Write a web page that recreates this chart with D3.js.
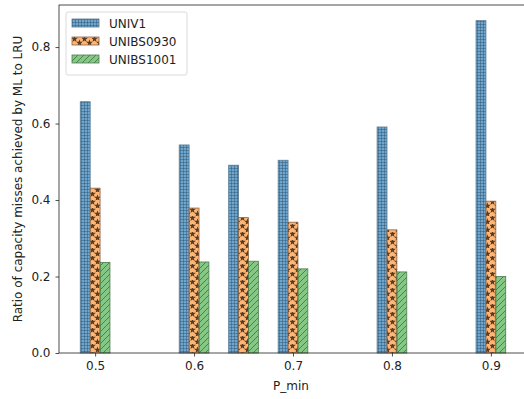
<!DOCTYPE html>
<html lang="en">
<head>
    <meta charset="UTF-8">
    <script src="https://cdn.jsdelivr.net/npm/d3@7"></script>
    <title>P_min bars</title>
    <style>
        body { margin: 0; background: #fff; }
        svg { font-family: "DejaVu Sans", sans-serif; display: block; }
    </style>
</head>
<body>
    <svg></svg>
    <script>
        const pMin = [0.5, 0.6, 0.65, 0.7, 0.8, 0.9];
        const seriesNames = ['UNIV1', 'UNIBS0930', 'UNIBS1001'];
        const univ1 = [0.657, 0.544, 0.491, 0.504, 0.591, 0.869];
        const unibs0930 = [0.431, 0.379, 0.354, 0.342, 0.322, 0.397];
        const unibs1001 = [0.237, 0.238, 0.240, 0.220, 0.212, 0.200];
        const xTicks = [0.5, 0.6, 0.7, 0.8, 0.9];
        const yTicks = [0.0, 0.2, 0.4, 0.6, 0.8];

        const W = 524, H = 399;
        const svg = d3.select('svg').attr('width', W).attr('height', H);

        // plot area
        const pLeft = 59, pRight = 527, pTop = 5, pBottom = 353;
        const barW = 0.01;
        const x = d3.scaleLinear().domain([0.4635, 0.9365]).range([pLeft, pRight]);
        const y = d3.scaleLinear().domain([0, 0.91]).range([pBottom, pTop]);

        const fills = ['rgba(31,119,180,0.65)', 'rgba(255,127,14,0.58)', 'rgba(44,160,44,0.58)'];
        const edges = ['#5a7890', '#8a6547', '#4f7a4f'];

        // hatch patterns
        const defs = svg.append('defs');
        // grid '+'
        let p = defs.append('pattern').attr('id', 'h0').attr('patternUnits', 'userSpaceOnUse')
            .attr('width', 3).attr('height', 3);
        p.append('rect').attr('width', 3).attr('height', 3).attr('fill', fills[0]);
        p.append('path').attr('d', 'M0,0.5H3M0.5,0V3').attr('stroke', '#2b4a66').attr('stroke-width', 0.7).attr('stroke-opacity', 0.6);
        // stars
        p = defs.append('pattern').attr('id', 'h1').attr('patternUnits', 'userSpaceOnUse')
            .attr('width', 10).attr('height', 8);
        p.append('rect').attr('width', 10).attr('height', 8).attr('fill', fills[1]);
        const star = d3.symbol().type(d3.symbolStar).size(15)();
        p.append('path').attr('d', star).attr('transform', 'translate(2.5,2)').attr('fill', '#5a3c22');
        p.append('path').attr('d', star).attr('transform', 'translate(7.5,6)').attr('fill', '#5a3c22');
        // diagonal '//'
        p = defs.append('pattern').attr('id', 'h2').attr('patternUnits', 'userSpaceOnUse')
            .attr('width', 6).attr('height', 6);
        p.append('rect').attr('width', 6).attr('height', 6).attr('fill', fills[2]);
        p.append('path').attr('d', 'M-1,7L7,-1M-1,1L1,-1M5,7L7,5').attr('stroke', '#3a6a3a').attr('stroke-width', 0.9).attr('stroke-opacity', 0.85);

        const series = [univ1, unibs0930, unibs1001];
        series.forEach(function(vals, s) {
            svg.append('g').selectAll('rect')
                .data(vals)
                .enter()
                .append('rect')
                .attr('x', function(d, i) { return x(pMin[i] + (s - 1) * barW - barW / 2); })
                .attr('width', function(d, i) { return x(pMin[i] + barW / 2) - x(pMin[i] - barW / 2); })
                .attr('y', function(d) { return y(d); })
                .attr('height', function(d) { return y(0) - y(d); })
                .attr('fill', 'url(#h' + s + ')')
                .attr('stroke', edges[s])
                .attr('stroke-width', 0.8);
        });

        // axes
        const xAxis = d3.axisBottom(x).tickValues(xTicks).tickSize(3.5).tickPadding(5)
            .tickFormat(d3.format('.1f'));
        const gx = svg.append('g').attr('transform', `translate(0,${pBottom})`).call(xAxis);
        const yAxis = d3.axisLeft(y).tickValues(yTicks).tickSize(3.5).tickPadding(5)
            .tickFormat(d3.format('.1f'));
        const gy = svg.append('g').attr('transform', `translate(${pLeft},0)`).call(yAxis);
        [gx, gy].forEach(function(g) {
            g.select('.domain').remove();
            g.selectAll('text').attr('font-size', 12).attr('fill', '#222').attr('font-family', '"DejaVu Sans", sans-serif');
            g.selectAll('line').attr('stroke', '#222').attr('stroke-width', 0.8);
        });

        // spines
        svg.append('rect').attr('x', pLeft).attr('y', pTop).attr('width', pRight - pLeft).attr('height', pBottom - pTop)
            .attr('fill', 'none').attr('stroke', '#222').attr('stroke-width', 0.8);

        svg.append('text').attr('x', (pLeft + pRight) / 2 - 2).attr('y', 390).attr('text-anchor', 'middle')
            .attr('font-size', 12).attr('fill', '#222').text('P_min');
        svg.append('text').attr('transform', `translate(22,${(pTop + pBottom) / 2}) rotate(-90)`)
            .attr('text-anchor', 'middle').attr('font-size', 12).attr('fill', '#222')
            .text('Ratio of capacity misses achieved by ML to LRU');

        // legend
        const lg = svg.append('g').attr('transform', 'translate(66,12)');
        lg.append('rect').attr('width', 121).attr('height', 63).attr('rx', 2)
            .attr('fill', 'rgba(255,255,255,0.8)').attr('stroke', '#d0d0d0').attr('stroke-width', 0.8);
        seriesNames.forEach(function(name, i) {
            const row = lg.append('g').attr('transform', `translate(6,${7 + i * 18})`);
            row.append('rect').attr('width', 27).attr('height', 8)
                .attr('fill', 'url(#h' + i + ')').attr('stroke', edges[i]).attr('stroke-width', 0.8);
            row.append('text').attr('x', 37).attr('y', 8.5).attr('font-size', 12).attr('fill', '#222').text(name);
        });
    </script>
</body>
</html>
